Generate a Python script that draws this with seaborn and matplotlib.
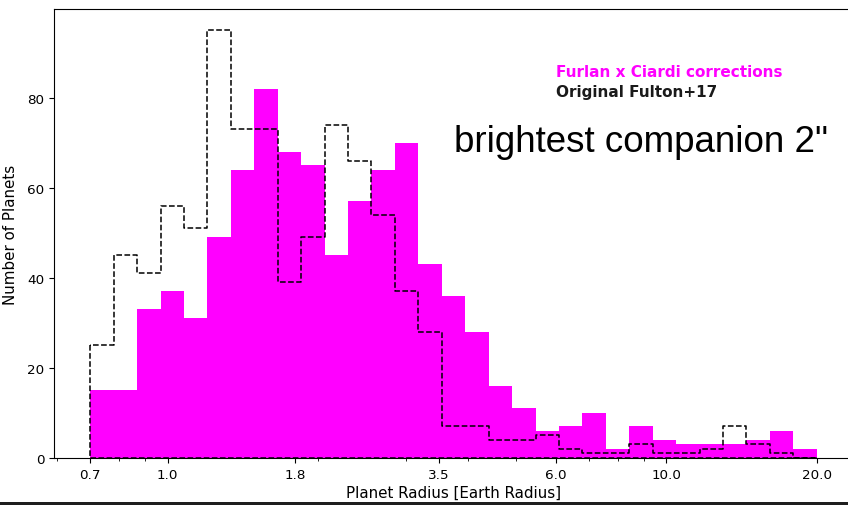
import numpy as np
import pandas as pd
import matplotlib
matplotlib.use("Agg")
import matplotlib.pyplot as plt
from matplotlib.patches import Rectangle
import seaborn as sns

# Radius range and binning (log-spaced bins)
r_min, r_max = 0.7, 20.0
n_bins = 31

# Planet counts per radius bin
furlan_ciardi_counts = [15, 15, 33, 37, 31, 49, 64, 82, 68, 65, 45, 57, 64, 70, 43,
                        36, 28, 16, 11, 6, 7, 10, 2, 7, 4, 3, 3, 3, 4, 6, 2]
fulton17_counts = [25, 45, 41, 56, 51, 95, 73, 73, 39, 49, 74, 66, 54, 37, 28,
                   7, 7, 4, 4, 5, 2, 1, 1, 3, 1, 1, 2, 7, 3, 1, 0]

tick_values = [0.7, 1.0, 1.8, 3.5, 6.0, 10.0, 20.0]
tick_labels = ["0.7", "1.0", "1.8", "3.5", "6.0", "10.0", "20.0"]

label_corrected = "Furlan x Ciardi corrections"
label_original = "Original Fulton+17"
annotation = 'brightest companion 2"'

# Bin geometry in log10 space (seaborn bins log-scaled data in log units)
log_range = (np.log10(r_min), np.log10(r_max))
log_edges = np.linspace(*log_range, n_bins + 1)
centers = 10 ** ((log_edges[:-1] + log_edges[1:]) / 2)

df = pd.DataFrame({
    "radius": centers,
    "corrected": furlan_ciardi_counts,
    "original": fulton17_counts,
})

W, H = 848, 506
fig = plt.figure(figsize=(W / 100, H / 100), dpi=100)
ax = fig.add_axes([54 / W, 47 / H, (853 - 54) / W, 449 / H])

sns.histplot(data=df, x="radius", weights="corrected", bins=n_bins, binrange=log_range,
             log_scale=True, element="bars", color="magenta", alpha=1, linewidth=0,
             label=label_corrected, ax=ax)
sns.histplot(data=df, x="radius", weights="original", bins=n_bins, binrange=log_range,
             log_scale=True, element="step", fill=True, color="black",
             facecolor="none", edgecolor="black", linestyle="--", linewidth=1.1,
             label=label_original, ax=ax)

ax.set_xticks(tick_values)
ax.set_xticklabels(tick_labels)
ax.tick_params(labelsize=9.7)
ax.set_xlabel("Planet Radius [Earth Radius]", fontsize=10.9, labelpad=3)
ax.set_ylabel("Number of Planets", fontsize=10.9)
ax.yaxis.set_label_coords(-0.0456, 0.5)

# text-only legend: corrected series first, original second
handles, labels = ax.get_legend_handles_labels()
order = [labels.index(label_corrected), labels.index(label_original)]
leg = ax.legend([handles[i] for i in order], [labels[i] for i in order],
                frameon=False, handlelength=0, handletextpad=0,
                prop=dict(weight="bold", size=11),
                labelcolor=["magenta", "#1a1a1a"],
                loc="upper left", bbox_to_anchor=(542 / W, 1 - 51 / H),
                bbox_transform=fig.transFigure, labelspacing=0.37)
for h in leg.legend_handles:
    h.set_visible(False)

fig.text(454 / W, 1 - 152 / H, annotation, fontsize=26.5,
         family="Liberation Sans", va="baseline", ha="left")

# dark strip along the lower edge
fig.patches.append(Rectangle((0, 0), 1, 3.5 / H, transform=fig.transFigure,
                             facecolor="#1e1e1e", edgecolor="none", zorder=5))

fig.savefig("out.png", dpi=100)
